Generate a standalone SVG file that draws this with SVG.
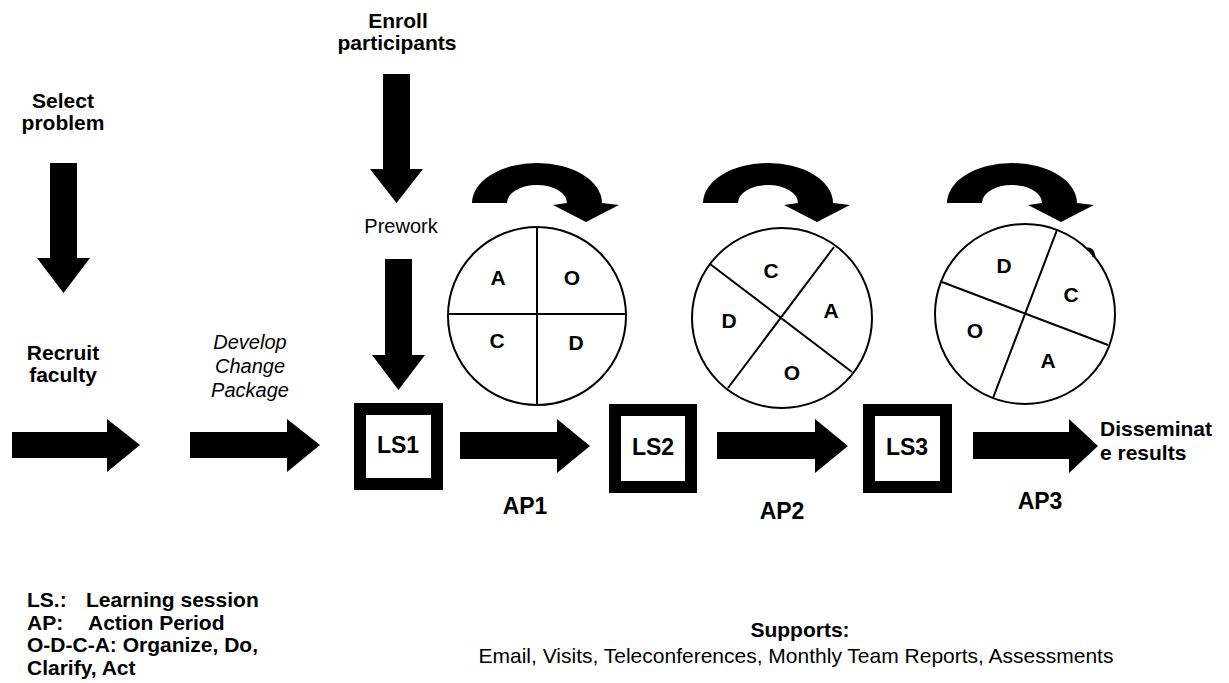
<svg xmlns="http://www.w3.org/2000/svg" width="1229" height="683" viewBox="0 0 1229 683">
<style>
.b{font-family:"Liberation Sans",Arial,sans-serif;font-weight:bold;fill:#000}
.r{font-family:"Liberation Sans",Arial,sans-serif;fill:#000}
.i{font-family:"Liberation Sans",Arial,sans-serif;font-style:italic;fill:#000}
.m{text-anchor:middle}
.lbl{font-size:21px}
.big{font-size:23px}
.box{fill:#fff;stroke:#000;stroke-width:12}
.cir{fill:#fff;stroke:#000;stroke-width:2}
.div{stroke:#000;stroke-width:2}
.arr{fill:#000}
</style>
<rect width="1229" height="683" fill="#fff"/>
<g id="connectors">
  <path class="arr" d="M50,163 H77 V258 H90 L63.5,293 L37,258 H50 Z"/>
  <path class="arr" d="M383,74 H410 V169 H423 L396.5,203 L370,169 H383 Z"/>
  <path class="arr" d="M385,259 H412 V355 H425 L398.5,390 L372,355 H385 Z"/>
  <path class="arr" d="M12,432 H107 V419 L140,445 L107,472 V458 H12 Z"/>
  <path class="arr" d="M190,432 H287 V419 L320,445 L287,472 V458 H190 Z"/>
  <path class="arr" d="M460,432 H557 V419 L590,446 L557,473 V459 H460 Z"/>
  <path class="arr" d="M717,432 H815 V419 L848,446 L815,473 V459 H717 Z"/>
  <path class="arr" d="M973,432 H1069 V419 L1098,446 L1069,473 V459 H973 Z"/>
  <path class="arr" d="M472,203 A65,40 0 0 1 602,203 L619,205 L586,222 L553,205 L567,203 A30,18 0 0 0 507,203 Z"/>
  <path class="arr" d="M703,203 A65,40 0 0 1 833,203 L850,205 L817,222 L784,205 L798,203 A30,18 0 0 0 738,203 Z"/>
  <path class="arr" d="M947,203 A65,40 0 0 1 1077,203 L1094,205 L1061,222 L1028,205 L1042,203 A30,18 0 0 0 982,203 Z"/>
</g>
<g id="select-problem">
  <text class="b m lbl" x="63" y="108">Select</text>
  <text class="b m lbl" x="63" y="130">problem</text>
</g>
<g id="enroll-participants">
  <text class="b m lbl" x="398" y="28">Enroll</text>
  <text class="b m lbl" x="397" y="50">participants</text>
</g>
<g id="prework">
  <text class="r m" font-size="20" x="401" y="233">Prework</text>
</g>
<g id="recruit-faculty">
  <text class="b m lbl" x="63" y="360">Recruit</text>
  <text class="b m lbl" x="63" y="382">faculty</text>
</g>
<g id="develop-change-package">
  <text class="i m" font-size="20" x="250" y="349">Develop</text>
  <text class="i m" font-size="20" x="250" y="373">Change</text>
  <text class="i m" font-size="20" x="250" y="397">Package</text>
</g>
<g id="ls1">
  <rect class="box" x="360" y="409" width="77" height="75"/>
  <text class="b m big" x="398" y="453">LS1</text>
</g>
<g id="ls2">
  <rect class="box" x="615" y="410" width="76" height="77"/>
  <text class="b m big" x="653" y="455">LS2</text>
</g>
<g id="ls3">
  <rect class="box" x="869" y="410" width="77" height="77"/>
  <text class="b m big" x="907" y="455">LS3</text>
</g>
<g id="ap-labels">
  <text class="b m big" x="525" y="514">AP1</text>
  <text class="b m big" x="782" y="519">AP2</text>
  <text class="b m big" x="1040" y="509">AP3</text>
</g>
<g id="disseminate">
  <text class="b lbl" x="1100" y="436">Disseminat</text>
  <text class="b lbl" x="1100" y="460">e results</text>
</g>
<g id="cycle1">
  <circle class="cir" cx="537" cy="316" r="89"/>
  <line class="div" x1="537" y1="227" x2="537" y2="405"/>
  <line class="div" x1="448" y1="314" x2="626" y2="314"/>
  <text class="b m lbl" x="498" y="285">A</text>
  <text class="b m lbl" x="572" y="285">O</text>
  <text class="b m lbl" x="497" y="348">C</text>
  <text class="b m lbl" x="576" y="350">D</text>
</g>
<g id="cycle2">
  <circle class="cir" cx="782" cy="318" r="90"/>
  <line class="div" x1="710" y1="264" x2="852" y2="372"/>
  <line class="div" x1="834" y1="247" x2="728" y2="388"/>
  <text class="b m lbl" x="771" y="278">C</text>
  <text class="b m lbl" x="831" y="318">A</text>
  <text class="b m lbl" x="729" y="328">D</text>
  <text class="b m lbl" x="792" y="380">O</text>
</g>
<g id="cycle3">
  <circle class="cir" cx="1025" cy="314" r="90"/>
  <line class="div" x1="1057" y1="230" x2="993" y2="398"/>
  <line class="div" x1="942" y1="282" x2="1108" y2="345"/>
  <path d="M1087,249 Q1093,248 1094,257" fill="none" stroke="#000" stroke-width="3"/>
  <text class="b m lbl" x="1004" y="273">D</text>
  <text class="b m lbl" x="1071" y="302">C</text>
  <text class="b m lbl" x="975" y="338">O</text>
  <text class="b m lbl" x="1048" y="368">A</text>
</g>
<g id="legend">
  <text class="b lbl" x="27" y="607">LS.:<tspan x="86">Learning session</tspan></text>
  <text class="b lbl" x="27" y="630">AP:<tspan x="88">Action Period</tspan></text>
  <text class="b lbl" x="27" y="652">O-D-C-A: Organize, Do,</text>
  <text class="b lbl" x="27" y="675">Clarify, Act</text>
</g>
<g id="supports">
  <text class="b m lbl" x="800" y="637">Supports:</text>
  <text class="r m lbl" x="796" y="663">Email, Visits, Teleconferences, Monthly Team Reports, Assessments</text>
</g>
</svg>
